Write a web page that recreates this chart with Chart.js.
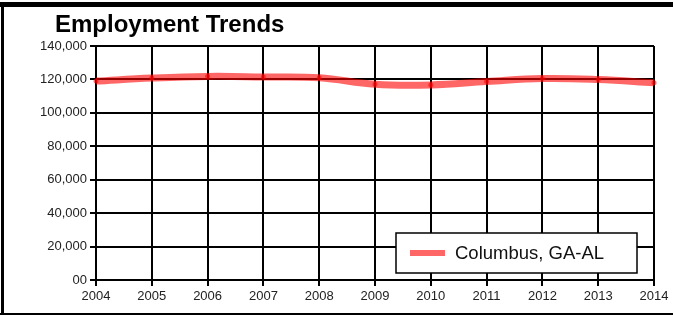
<!DOCTYPE html>
<html>
<head>
<meta charset="utf-8">
<style>
  html, body { margin: 0; padding: 0; background: #fff; }
  #wrap { width: 673px; height: 316px; position: relative; }
</style>
<script src="https://cdn.jsdelivr.net/npm/chart.js@4/dist/chart.umd.min.js"></script>
</head>
<body>
<div id="wrap"><canvas id="trend"></canvas></div>
<script>
// Employment trend data
const years = ['2004', '2005', '2006', '2007', '2008', '2009', '2010', '2011', '2012', '2013', '2014'];
const employment = [119000, 120800, 121800, 121500, 121000, 117100, 116700, 118700, 120500, 119900, 118000];
const seriesName = 'Columbus, GA-AL';
const chartTitle = 'Employment Trends';

const lineColor = 'rgba(255, 0, 0, 0.6)';
const font = "'Liberation Sans', Arial, sans-serif";

// frame, title and the boxed legend in the lower right
const decorations = {
  id: 'decorations',
  beforeDraw(chart) {
    const ctx = chart.ctx;
    ctx.save();
    ctx.fillStyle = '#fff';
    ctx.fillRect(0, 0, chart.width, chart.height);
    ctx.fillStyle = '#000';
    ctx.fillRect(0, 2, chart.width, 5);
    ctx.fillRect(1, 2, 3, chart.height - 4);
    ctx.fillRect(0, chart.height - 3, chart.width, 2);
    ctx.font = 'bold 24px ' + font;
    ctx.textBaseline = 'alphabetic';
    ctx.fillText(chartTitle, 55, 32);
    ctx.restore();
  },
  afterDraw(chart) {
    const ctx = chart.ctx;
    const area = chart.chartArea;
    const ds = chart.data.datasets[0];
    const bx = area.right - 258, by = area.bottom - 47, bw = 241, bh = 40;
    ctx.save();
    ctx.fillStyle = '#fff';
    ctx.fillRect(bx, by, bw, bh);
    ctx.strokeStyle = '#000';
    ctx.lineWidth = 1.5;
    ctx.strokeRect(bx, by, bw, bh);
    ctx.strokeStyle = ds.borderColor;
    ctx.lineWidth = 6;
    ctx.beginPath();
    ctx.moveTo(bx + 14, by + bh / 2);
    ctx.lineTo(bx + 49, by + bh / 2);
    ctx.stroke();
    ctx.fillStyle = '#111';
    ctx.font = '18.5px ' + font;
    ctx.textBaseline = 'middle';
    ctx.fillText(ds.label, bx + 59, by + bh / 2 + 1);
    ctx.restore();
  }
};

new Chart(document.getElementById('trend'), {
  type: 'line',
  data: {
    labels: years,
    datasets: [{
      label: seriesName,
      data: employment,
      borderColor: lineColor,
      backgroundColor: lineColor,
      borderWidth: 7,
      tension: 0.4,
      pointRadius: 2.5,
      pointBorderWidth: 0,
      pointBackgroundColor: lineColor,
      fill: false
    }]
  },
  options: {
    responsive: true,
    maintainAspectRatio: false,
    animation: false,
    layout: { padding: { top: 46, right: 19, left: 0, bottom: 0 } },
    plugins: {
      legend: { display: false },
      title: { display: false },
      tooltip: { enabled: false }
    },
    scales: {
      x: {
        offset: false,
        afterFit: (scale) => { scale.height = 36; },
        grid: { color: '#000', lineWidth: 2, tickLength: 6, tickColor: '#000' },
        border: { color: '#000', width: 2 },
        ticks: { color: '#222', font: { family: font, size: 13 }, maxRotation: 0, padding: 3 }
      },
      y: {
        min: 0,
        max: 140000,
        afterFit: (scale) => { scale.width = 96; },
        grid: { color: '#000', lineWidth: 2, tickLength: 6, tickColor: '#000' },
        border: { color: '#000', width: 2 },
        ticks: {
          stepSize: 20000,
          color: '#222',
          padding: 3,
          font: { family: font, size: 13 },
          callback: (v) => v === 0 ? '00' : v.toLocaleString('en-US')
        }
      }
    }
  },
  plugins: [decorations]
});
</script>
</body>
</html>
